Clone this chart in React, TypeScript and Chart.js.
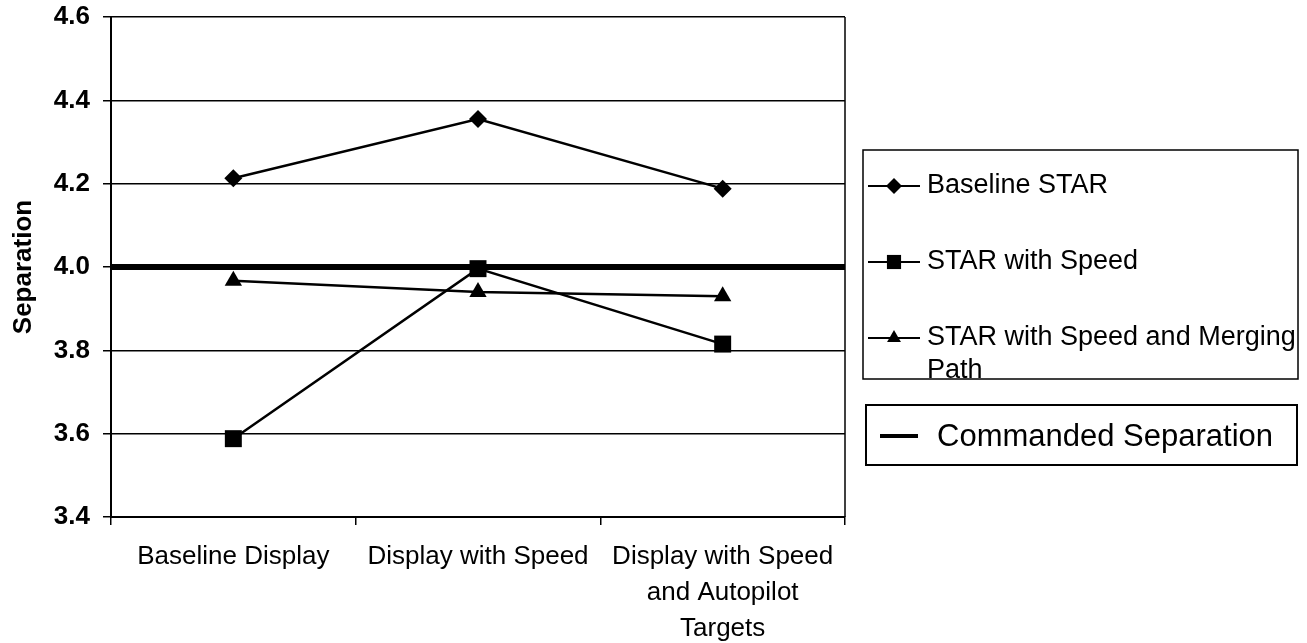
import React, { useEffect, useRef } from "react";
import { Chart, registerables } from "chart.js";

Chart.register(...registerables);

const CATEGORIES: (string | string[])[] = [
  "Baseline Display",
  "Display with Speed",
  ["Display with Speed", "and Autopilot", "Targets"],
];
const SERIES_NAMES = ["Baseline STAR", "STAR with Speed", "STAR with Speed and Merging Path"];
const BASELINE_STAR = [4.213, 4.355, 4.188];
const STAR_WITH_SPEED = [3.588, 3.996, 3.815];
const STAR_WITH_SPEED_MERGING = [3.967, 3.94, 3.93];
const COMMANDED_NAME = "Commanded Separation";
const COMMANDED_SEPARATION = 4.0;
const Y_MIN = 3.4;
const Y_MAX = 4.6;
const Y_STEP = 0.2;
const Y_TITLE = "Separation";

const FONT = '"Liberation Sans", Arial, Helvetica, sans-serif';
const W = 1307;
const H = 643;

function drawMarker(ctx: CanvasRenderingContext2D, style: string, x: number, y: number, r: number) {
  ctx.beginPath();
  if (style === "rectRot") {
    ctx.moveTo(x, y - r);
    ctx.lineTo(x + r, y);
    ctx.lineTo(x, y + r);
    ctx.lineTo(x - r, y);
  } else if (style === "rect") {
    const s = r * Math.SQRT1_2;
    ctx.rect(x - s, y - s, 2 * s, 2 * s);
  } else {
    ctx.moveTo(x, y - r);
    ctx.lineTo(x + r * 0.866, y + r / 2);
    ctx.lineTo(x - r * 0.866, y + r / 2);
  }
  ctx.closePath();
  ctx.fill();
}

const legendPlugin = {
  id: "customLegend",
  afterDraw(chart: any) {
    const ctx: CanvasRenderingContext2D = chart.ctx;
    const area = chart.chartArea;
    ctx.save();
    // right border of plot
    ctx.strokeStyle = "#000";
    ctx.lineWidth = 1.5;
    ctx.beginPath();
    ctx.moveTo(area.right, area.top);
    ctx.lineTo(area.right, area.bottom);
    ctx.stroke();

    const bx = area.right + 18;
    const bw = 435;
    // Box 1
    ctx.lineWidth = 1.5;
    ctx.strokeRect(bx, 150, bw, 229);
    ctx.font = `27px ${FONT}`;
    ctx.fillStyle = "#000";
    ctx.textBaseline = "middle";
    ctx.textAlign = "left";
    const ys = [186, 262, 338];
    const dsList = chart.data.datasets.filter((d: any) => !d.isCommanded);
    dsList.forEach((ds: any, i: number) => {
      const y = ys[i];
      ctx.lineWidth = 2;
      ctx.beginPath();
      ctx.moveTo(bx + 5, y);
      ctx.lineTo(bx + 57, y);
      ctx.stroke();
      drawMarker(ctx, ds.pointStyle, bx + 31, y, ds.pointStyle === "rect" ? 10 : 8);
      const label: string = ds.label;
      if (label === SERIES_NAMES[2]) {
        ctx.fillText("STAR with Speed and Merging", bx + 64, y);
        ctx.fillText("Path", bx + 64, y + 33);
      } else {
        ctx.fillText(label, bx + 64, y);
      }
    });
    // Box 2
    const b2x = area.right + 21;
    ctx.lineWidth = 2;
    ctx.strokeRect(b2x, 405, 431, 60);
    ctx.lineWidth = 4;
    ctx.beginPath();
    ctx.moveTo(b2x + 14, 436);
    ctx.lineTo(b2x + 52, 436);
    ctx.stroke();
    ctx.font = `31px ${FONT}`;
    ctx.fillText(COMMANDED_NAME, b2x + 71, 437);
    ctx.restore();
  },
};

export default function App() {
  const ref = useRef<HTMLCanvasElement>(null);
  useEffect(() => {
    if (!ref.current) return;
    const seriesStyle = (label: string, data: number[], pointStyle: string, radius: number) => ({
      type: "line" as const,
      label,
      data,
      xAxisID: "x",
      borderColor: "#000",
      backgroundColor: "#000",
      borderWidth: 2.5,
      pointStyle,
      pointRadius: radius,
      pointBackgroundColor: "#000",
      pointBorderColor: "#000",
      pointBorderWidth: 0,
      tension: 0,
      order: 1,
    });
    const chart = new Chart(ref.current, {
      type: "line",
      data: {
        labels: CATEGORIES as any,
        datasets: [
          seriesStyle(SERIES_NAMES[0], BASELINE_STAR, "rectRot", 9),
          seriesStyle(SERIES_NAMES[1], STAR_WITH_SPEED, "rect", 12),
          seriesStyle(SERIES_NAMES[2], STAR_WITH_SPEED_MERGING, "triangle", 10),
          {
            type: "line",
            label: COMMANDED_NAME,
            isCommanded: true,
            xAxisID: "x2",
            data: [
              { x: 0, y: COMMANDED_SEPARATION },
              { x: 1, y: COMMANDED_SEPARATION },
            ],
            borderColor: "#000",
            borderWidth: 6,
            pointRadius: 0,
            order: 2,
          } as any,
        ],
      },
      options: {
        animation: false,
        responsive: false,
        events: [],
        layout: { padding: { top: 17, right: W - 845, left: 0, bottom: 0 } },
        plugins: { legend: { display: false }, tooltip: { enabled: false } },
        scales: {
          x: {
            type: "category",
            offset: true,
            grid: {
              offset: true,
              drawOnChartArea: false,
              drawTicks: true,
              tickLength: 8,
              color: "#000",
              lineWidth: 1.5,
            },
            border: { display: true, color: "#000", width: 2 },
            ticks: {
              color: "#000",
              font: { family: FONT, size: 26, lineHeight: 1.38 },
              padding: 14,
              maxRotation: 0,
              autoSkip: false,
            },
            afterFit: (s: any) => {
              s.height = H - 517;
            },
          },
          x2: { type: "linear", min: 0, max: 1, display: false },
          y: {
            min: Y_MIN,
            max: Y_MAX,
            ticks: {
              stepSize: Y_STEP,
              color: "#000",
              font: { family: FONT, size: 26, weight: "bold" },
              padding: 13,
              callback: (v: any) => Number(v).toFixed(1),
            },
            grid: { color: "#000", lineWidth: 1.5, tickLength: 8, drawTicks: true },
            border: { display: true, color: "#000", width: 2 },
            title: {
              display: true,
              text: Y_TITLE,
              color: "#000",
              font: { family: FONT, size: 26, weight: "bold" },
              padding: { top: 8, bottom: 0 },
            },
            afterFit: (s: any) => {
              s.width = 111;
              s.paddingTop = 0;
              s.paddingBottom = 0;
            },
          },
        },
      },
      plugins: [legendPlugin],
    } as any);
    return () => chart.destroy();
  }, []);
  return (
    <div style={{ position: "absolute", left: 0, top: 0, width: W, height: H, background: "#fff" }}>
      <canvas ref={ref} width={W} height={H} style={{ display: "block" }} />
    </div>
  );
}
